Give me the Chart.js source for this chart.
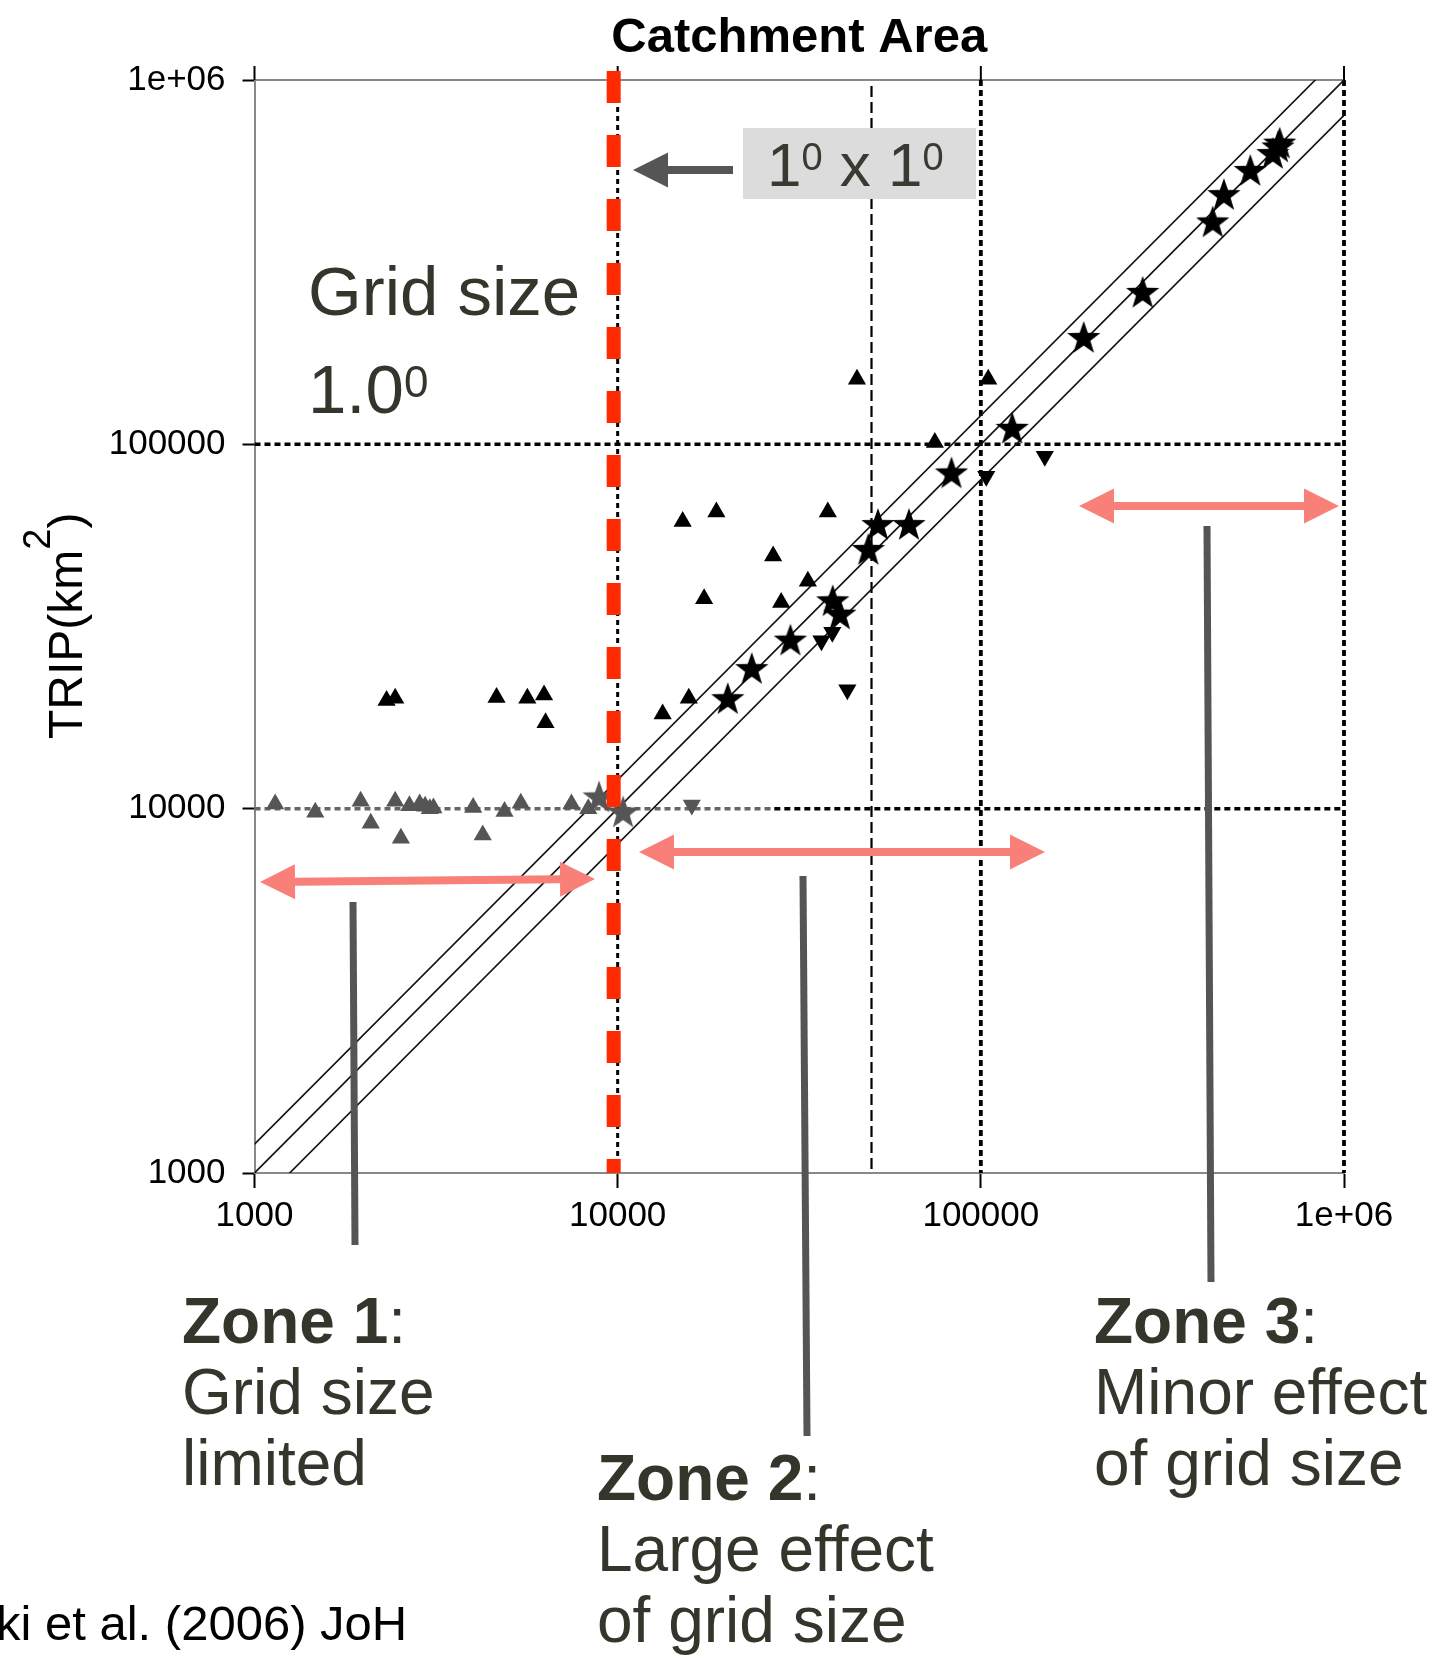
<!DOCTYPE html>
<html>
<head>
<meta charset="utf-8">
<script src="https://cdn.jsdelivr.net/npm/chart.js@4.4.1/dist/chart.umd.min.js"></script>
<style>
  html, body { margin: 0; padding: 0; background: #fff; overflow: hidden; }
  canvas { display: block; }
</style>
</head>
<body>
<canvas id="chart" width="1437" height="1655"></canvas>
<script>
// ---------- Eixos (escala log) ----------
const tickValues = [1000, 10000, 100000, 1000000];
const tickLabels = ['1000', '10000', '100000', '1e+06'];

// ---------- Pontos: área da bacia (x) vs área TRIP (y), km² ----------
const upX = [45600, 104800, 74700, 15100, 18700, 37900, 26800, 33400, 17300, 28200, 15700, 13300, 2310, 2440, 4640, 5640, 6270, 6330];
const upY = [151000, 151000, 101100, 61400, 65200, 65200, 49400, 42100, 37700, 36800, 20100, 18200, 19800, 20100, 20200, 20100, 20500, 17200];
const upGrayX = [1140, 1470, 1960, 2090, 2440, 2530, 2670, 2850, 2950, 3040, 3110, 4000, 4250, 4880, 5410, 7460, 8300];
const upGrayY = [10300, 9770, 10480, 9120, 10480, 8290, 10190, 10300, 10150, 10000, 10050, 10070, 8470, 9820, 10350, 10300, 10000];
const downX = [150000, 103500, 39000, 36400, 42900];
const downY = [92700, 81700, 30500, 28900, 21200];
const downGrayX = [16000];
const downGrayY = [10240];
const starX = [665000, 658000, 637000, 552000, 467000, 435000, 279000, 192000, 122000, 83000, 52100, 63400, 49000, 39100, 40900, 29900, 23400, 20100];
const starY = [673000, 657000, 630000, 566000, 486000, 409000, 262000, 197000, 111000, 83700, 60400, 60400, 51600, 37300, 34300, 29100, 24300, 20100];
const starGrayX = [8890, 10350];
const starGrayY = [10800, 9820];

// linhas 1:1 e ±20 %
const ratios = [1.2, 1, 0.8];
const lineEnds = [1000, 1000000];

// referências
const gridSize = 9750;      // 1° x 1° ≈ 10^4 km²
const splitGray = 27000;

const FONT = "'Liberation Sans', Arial, Helvetica, sans-serif";
const TXT = '#35352b';
const PINK = '#f98078';
const DARK = '#555555';

const pts = (xs, ys) => xs.map((v, i) => ({ x: v, y: ys[i] }));

function starImage(color) {
  const c = document.createElement('canvas');
  c.width = 36; c.height = 36;
  const g = c.getContext('2d');
  g.fillStyle = color;
  g.beginPath();
  for (let i = 0; i < 10; i++) {
    const r = i % 2 ? 7 : 17.5;
    const a = -Math.PI / 2 + i * Math.PI / 5;
    g.lineTo(18 + r * Math.cos(a), 19.5 + r * Math.sin(a));
  }
  g.closePath();
  g.fill();
  return c;
}

function seg(ctx, x1, y1, x2, y2, color, width, dash) {
  ctx.save();
  ctx.beginPath();
  ctx.strokeStyle = color;
  ctx.lineWidth = width;
  ctx.setLineDash(dash || []);
  ctx.moveTo(x1, y1);
  ctx.lineTo(x2, y2);
  ctx.stroke();
  ctx.restore();
}

function dblArrow(ctx, x1, y1, x2, y2, color, both) {
  const len = Math.hypot(x2 - x1, y2 - y1), ang = Math.atan2(y2 - y1, x2 - x1);
  const h = 35, hw = 17.5, sw = 4;
  ctx.save();
  ctx.translate(x1, y1);
  ctx.rotate(ang);
  ctx.fillStyle = color;
  ctx.beginPath();
  ctx.moveTo(0, 0);
  ctx.lineTo(h, -hw); ctx.lineTo(h, -sw);
  if (both) {
    ctx.lineTo(len - h, -sw); ctx.lineTo(len - h, -hw); ctx.lineTo(len, 0);
    ctx.lineTo(len - h, hw); ctx.lineTo(len - h, sw);
  } else {
    ctx.lineTo(len, -sw); ctx.lineTo(len, sw);
  }
  ctx.lineTo(h, sw); ctx.lineTo(h, hw);
  ctx.closePath();
  ctx.fill();
  ctx.restore();
}

function textRuns(ctx, x, y, runs) {
  // runs: [texto, fonte, deslocamento vertical]
  let cx = x;
  runs.forEach(([t, f, dy]) => {
    ctx.font = f;
    ctx.fillText(t, cx, y + (dy || 0));
    cx += ctx.measureText(t).width;
  });
}

// ---------- Desenhos extras (grade, anotações) ----------
const overlay = {
  id: 'overlay',
  beforeDatasetsDraw(chart) {
    const { ctx, chartArea: a, scales: { x, y } } = chart;
    ctx.save();
    seg(ctx, a.left, a.top, a.right, a.top, '#888', 2);
    tickValues.forEach(v => {
      const px = x.getPixelForValue(v);
      seg(ctx, px, a.top - 14, px, a.top, '#000', 2);
    });
    // horizontais
    const y5 = y.getPixelForValue(100000), y4 = y.getPixelForValue(10000);
    seg(ctx, a.left, y5, a.right, y5, '#000', 3.5, [6, 4]);
    const xs = x.getPixelForValue(splitGray);
    seg(ctx, a.left, y4, xs, y4, '#666', 3.5, [6, 4]);
    seg(ctx, xs, y4, a.right, y4, '#000', 3.5, [6, 4]);
    // verticais
    const x4 = x.getPixelForValue(10000);
    seg(ctx, x4, a.top, x4, a.bottom, '#000', 3, [5, 4]);
    const x50 = x.getPixelForValue(50000);
    seg(ctx, x50, a.top + 6, x50, a.bottom, '#000', 2.2, [11, 5]);
    [100000, 1000000].forEach(v => {
      const px = x.getPixelForValue(v);
      seg(ctx, px, a.top, px, a.bottom, '#000', 3.8, [6, 4]);
    });

    // título
    ctx.fillStyle = '#000';
    ctx.textAlign = 'center';
    ctx.textBaseline = 'alphabetic';
    ctx.font = 'bold 49px ' + FONT;
    ctx.fillText('Catchment Area', (a.left + a.right) / 2, 52);

    // título do eixo y
    ctx.save();
    ctx.translate(82, 739);
    ctx.rotate(-Math.PI / 2);
    ctx.textAlign = 'left';
    textRuns(ctx, 0, 0, [
      ['TRIP(km', '48px ' + FONT, 0],
      ['2', '38px ' + FONT, -32],
      [')', '48px ' + FONT, 0]
    ]);
    ctx.restore();
    ctx.restore();
  },
  afterDatasetsDraw(chart) {
    const { ctx, chartArea: a, scales: { x } } = chart;
    ctx.save();
    // linha vermelha 1° x 1°
    const xr = x.getPixelForValue(gridSize);
    seg(ctx, xr, a.top - 9, xr, a.bottom, '#ff2a00', 14, [32, 32]);

    // seta escura + caixa
    dblArrow(ctx, 633, 170, 733, 170, DARK, false);
    ctx.fillStyle = '#dcdcdc';
    ctx.fillRect(743, 128, 233, 71);
    ctx.fillStyle = '#3a3a32';
    ctx.textAlign = 'left';
    ctx.textBaseline = 'alphabetic';
    textRuns(ctx, 767, 186, [
      ['1', '62px ' + FONT, 0],
      ['0', '38px ' + FONT, -16],
      [' x 1', '62px ' + FONT, 0],
      ['0', '38px ' + FONT, -16]
    ]);

    // Grid size 1.0°
    ctx.fillStyle = TXT;
    ctx.font = '69px ' + FONT;
    ctx.fillText('Grid size', 308, 315);
    textRuns(ctx, 308, 413, [
      ['1.0', '69px ' + FONT, 0],
      ['0', '44px ' + FONT, -16]
    ]);

    // setas das zonas
    dblArrow(ctx, 260, 882, 595, 879, PINK, true);
    dblArrow(ctx, 639, 852, 1045, 852, PINK, true);
    dblArrow(ctx, 1079, 506, 1339, 506, PINK, true);

    // ponteiros
    seg(ctx, 353, 902, 355, 1245, DARK, 7);
    seg(ctx, 803, 876, 807, 1436, DARK, 7);
    seg(ctx, 1207, 526, 1211, 1282, DARK, 7);

    // textos das zonas
    const B = 'bold 64px ' + FONT, R = '64px ' + FONT;
    ctx.fillStyle = TXT;
    textRuns(ctx, 182, 1343, [['Zone 1', B], [':', R]]);
    ctx.font = R;
    ctx.fillText('Grid size', 182, 1414);
    ctx.fillText('limited', 182, 1485);
    textRuns(ctx, 597, 1500, [['Zone 2', B], [':', R]]);
    ctx.font = R;
    ctx.fillText('Large effect', 597, 1571);
    ctx.fillText('of grid size', 597, 1642);
    textRuns(ctx, 1094, 1343, [['Zone 3', B], [':', R]]);
    ctx.font = R;
    ctx.fillText('Minor effect', 1094, 1414);
    ctx.fillText('of grid size', 1094, 1485);

    // referência
    ctx.fillStyle = '#000';
    ctx.font = '49px ' + FONT;
    ctx.fillText('ki et al. (2006) JoH', -4, 1640);
    ctx.restore();
  }
};

const pointDs = (data, style, color, extra) => Object.assign({
  data, pointStyle: style, pointRadius: 10.5, pointHoverRadius: 10.5,
  backgroundColor: color, borderColor: color, pointBorderWidth: 0, showLine: false
}, extra || {});

const starBlack = starImage('#000');
const starGray = starImage('#555');

const datasets = [
  pointDs(pts(starX, starY), starBlack, '#000', { pointRadius: 15 }),
  pointDs(pts(starGrayX, starGrayY), starGray, '#555', { pointRadius: 15 }),
  pointDs(pts(upX, upY), 'triangle', '#000'),
  pointDs(pts(upGrayX, upGrayY), 'triangle', '#555'),
  pointDs(pts(downX, downY), 'triangle', '#000', { pointRotation: 180 }),
  pointDs(pts(downGrayX, downGrayY), 'triangle', '#555', { pointRotation: 180 }),
  ...ratios.map(r => ({
    data: lineEnds.map(v => ({ x: v, y: v * r })),
    showLine: true, pointRadius: 0, borderColor: '#111', borderWidth: 1.6, fill: false
  }))
];

new Chart(document.getElementById('chart'), {
  type: 'scatter',
  data: { datasets },
  options: {
    responsive: false,
    animation: false,
    devicePixelRatio: 1,
    layout: { padding: { left: 0, right: 93, top: 80, bottom: 422 } },
    plugins: { legend: { display: false }, tooltip: { enabled: false } },
    scales: {
      x: {
        type: 'logarithmic', min: 1000, max: 1000000, position: 'bottom',
        afterBuildTicks: s => { s.ticks = tickValues.map(v => ({ value: v })); },
        afterFit: s => { s.height = 60; },
        ticks: {
          callback: (v, i) => tickLabels[i], autoSkip: false, maxRotation: 0,
          font: { family: FONT, size: 35 }, color: '#000', padding: 7
        },
        grid: { drawOnChartArea: false, tickLength: 15, tickColor: '#000', tickWidth: 2 },
        border: { color: '#888', width: 2 }
      },
      y: {
        type: 'logarithmic', min: 1000, max: 1000000,
        afterBuildTicks: s => { s.ticks = tickValues.map(v => ({ value: v })); },
        afterFit: s => { s.width = 254.5; },
        ticks: {
          callback: (v, i) => tickLabels[i], autoSkip: false,
          font: { family: FONT, size: 35 }, color: '#000', padding: 17
        },
        grid: { drawOnChartArea: false, tickLength: 12, tickColor: '#000', tickWidth: 2 },
        border: { color: '#888', width: 2 }
      }
    }
  },
  plugins: [overlay]
});
</script>
</body>
</html>
